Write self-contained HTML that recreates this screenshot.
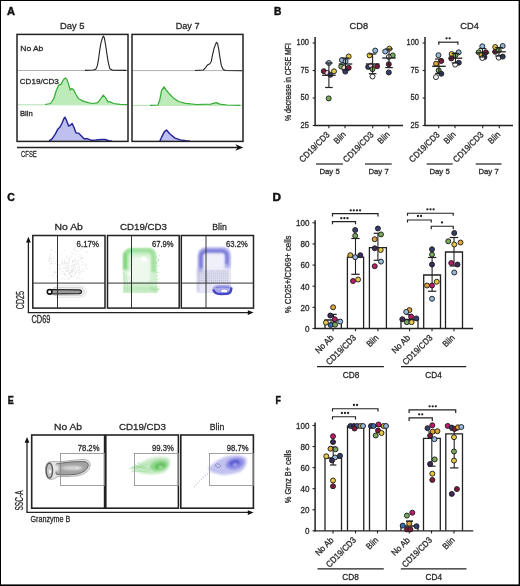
<!DOCTYPE html>
<html><head><meta charset="utf-8"><style>
html,body{margin:0;padding:0;background:#fff;width:520px;height:586px;overflow:hidden;}
svg{display:block;will-change:transform;filter:blur(0.3px);}
text{font-family:"Liberation Sans",sans-serif;}
</style></head><body>
<svg width="520" height="586" viewBox="0 0 520 586" font-family="Liberation Sans, sans-serif">
<rect x="0" y="0" width="520" height="586" fill="#000"/>
<rect x="1" y="1" width="517.6" height="583.4" fill="#fff"/>
<text x="7" y="14.8" font-size="11" fill="#111" font-weight="bold" stroke="#111" stroke-width="0.45" textLength="8" lengthAdjust="spacingAndGlyphs">A</text>
<text x="72.3" y="28.5" font-size="9.5" fill="#2a2a2a" stroke="#2a2a2a" stroke-width="0.3" text-anchor="middle" textLength="24.5" lengthAdjust="spacingAndGlyphs">Day 5</text>
<text x="187.6" y="28.5" font-size="9.5" fill="#2a2a2a" stroke="#2a2a2a" stroke-width="0.3" text-anchor="middle" textLength="23.8" lengthAdjust="spacingAndGlyphs">Day 7</text>
<line x1="17" y1="70.5" x2="128" y2="70.5" stroke="#9a9a9a" stroke-width="0.8" />
<line x1="132" y1="70.6" x2="243" y2="70.6" stroke="#9a9a9a" stroke-width="0.8" />
<line x1="17" y1="104.8" x2="128" y2="104.8" stroke="#9ed89e" stroke-width="0.8" />
<line x1="132" y1="105.4" x2="243" y2="105.4" stroke="#9ed89e" stroke-width="0.8" />
<polyline points="85.0,70.4 93.3,70.0 95.8,69.2 97.4,65.4 98.6,58.8 99.9,48.9 101.1,42.3 102.4,38.1 103.4,36.1 104.4,38.1 105.7,45.6 106.9,53.9 108.2,62.1 109.8,68.7 112.3,70.1 126.4,70.4" fill="none" stroke="#222" stroke-width="1.1" stroke-linejoin="round"/>
<polyline points="195.0,70.5 203.3,70.0 205.2,68.2 207.5,64.9 209.8,63.7 211.2,61.7 212.5,55.2 213.9,48.8 215.3,45.1 216.4,42.3 217.6,43.7 218.8,49.7 219.9,57.1 221.3,65.4 223.2,69.5 225.5,70.5 242.0,70.7" fill="none" stroke="#222" stroke-width="1.1" stroke-linejoin="round"/>
<polygon points="45.0,104.8 45.0,104.5 50.6,103.5 53.8,98.7 56.2,90.8 58.6,85.2 61.0,84.4 62.6,81.2 64.2,78.8 65.4,78.0 67.0,79.6 68.6,84.4 70.2,90.0 71.8,88.4 73.7,90.0 76.1,94.7 78.5,98.7 83.3,101.1 88.1,102.7 92.9,103.5 97.7,102.7 100.9,98.7 103.3,95.2 105.7,97.9 108.0,101.9 110.4,101.9 113.6,103.5 120.0,104.3 127.0,104.7 127.0,104.8" fill="#bdecba" stroke="none"/>
<polyline points="45.0,104.5 50.6,103.5 53.8,98.7 56.2,90.8 58.6,85.2 61.0,84.4 62.6,81.2 64.2,78.8 65.4,78.0 67.0,79.6 68.6,84.4 70.2,90.0 71.8,88.4 73.7,90.0 76.1,94.7 78.5,98.7 83.3,101.1 88.1,102.7 92.9,103.5 97.7,102.7 100.9,98.7 103.3,95.2 105.7,97.9 108.0,101.9 110.4,101.9 113.6,103.5 120.0,104.3 127.0,104.7" fill="none" stroke="#36ac36" stroke-width="1.25" stroke-linejoin="round"/>
<polygon points="150.0,105.5 150.0,105.4 158.0,105.0 159.8,99.7 161.6,90.7 164.0,86.8 166.1,89.8 169.7,94.3 173.3,97.9 178.6,101.5 185.8,103.3 196.5,104.5 210.8,104.2 216.2,102.7 219.8,104.2 226.9,105.0 240.3,105.4 240.3,105.5" fill="#bdecba" stroke="none"/>
<polyline points="150.0,105.4 158.0,105.0 159.8,99.7 161.6,90.7 164.0,86.8 166.1,89.8 169.7,94.3 173.3,97.9 178.6,101.5 185.8,103.3 196.5,104.5 210.8,104.2 216.2,102.7 219.8,104.2 226.9,105.0 240.3,105.4" fill="none" stroke="#36ac36" stroke-width="1.25" stroke-linejoin="round"/>
<polygon points="49.0,141.3 49.0,141.1 52.2,138.7 55.4,133.9 57.8,129.2 60.2,126.8 62.2,122.8 63.8,118.8 65.0,117.2 66.5,120.4 68.6,126.0 70.5,125.2 72.1,123.6 73.7,126.8 76.1,133.1 78.5,133.1 80.9,135.5 84.1,138.7 87.3,138.7 91.3,140.3 96.1,140.0 101.7,139.5 104.9,139.5 108.8,140.8 112.0,141.1 112.0,141.3" fill="#c0c0f0" stroke="none"/>
<polyline points="49.0,141.1 52.2,138.7 55.4,133.9 57.8,129.2 60.2,126.8 62.2,122.8 63.8,118.8 65.0,117.2 66.5,120.4 68.6,126.0 70.5,125.2 72.1,123.6 73.7,126.8 76.1,133.1 78.5,133.1 80.9,135.5 84.1,138.7 87.3,138.7 91.3,140.3 96.1,140.0 101.7,139.5 104.9,139.5 108.8,140.8 112.0,141.1" fill="none" stroke="#24249a" stroke-width="1.45" stroke-linejoin="round"/>
<polygon points="159.8,141.3 159.8,141.3 161.6,137.2 164.3,131.9 166.5,130.1 169.7,133.7 175.0,138.1 180.4,139.9 185.8,140.8 190.0,141.2 190.0,141.3" fill="#c0c0f0" stroke="none"/>
<polyline points="159.8,141.3 161.6,137.2 164.3,131.9 166.5,130.1 169.7,133.7 175.0,138.1 180.4,139.9 185.8,140.8 190.0,141.2" fill="none" stroke="#24249a" stroke-width="1.45" stroke-linejoin="round"/>
<rect x="17" y="34.4" width="111" height="107.0" stroke="#222" stroke-width="1.5" fill="none" />
<rect x="132" y="34.4" width="111" height="107.0" stroke="#222" stroke-width="1.5" fill="none" />
<text x="20.3" y="51" font-size="8" fill="#2a2a2a" stroke="#2a2a2a" stroke-width="0.3" textLength="23" lengthAdjust="spacingAndGlyphs">No Ab</text>
<text x="19.8" y="84" font-size="8" fill="#2a2a2a" stroke="#2a2a2a" stroke-width="0.3" textLength="39" lengthAdjust="spacingAndGlyphs">CD19/CD3</text>
<text x="20" y="115.7" font-size="8" fill="#2a2a2a" stroke="#2a2a2a" stroke-width="0.3" textLength="12.8" lengthAdjust="spacingAndGlyphs">Blin</text>
<line x1="17" y1="147.5" x2="238" y2="147.5" stroke="#222" stroke-width="1.3" />
<polygon points="243.3,147.5 235.4,144.2 237.6,147.5 235.4,150.8" fill="#111"/>
<text x="21" y="157.4" font-size="9.7" fill="#2a2a2a" stroke="#2a2a2a" stroke-width="0.3" textLength="15.8" lengthAdjust="spacingAndGlyphs">CFSE</text>
<text x="273.9" y="14.7" font-size="10.8" fill="#111" font-weight="bold" stroke="#111" stroke-width="0.45" textLength="7.4" lengthAdjust="spacingAndGlyphs">B</text>
<text x="358.8" y="29.0" font-size="9.7" fill="#2a2a2a" stroke="#2a2a2a" stroke-width="0.3" text-anchor="middle" textLength="18.5" lengthAdjust="spacingAndGlyphs">CD8</text>
<text x="469.6" y="29.0" font-size="9.7" fill="#2a2a2a" stroke="#2a2a2a" stroke-width="0.3" text-anchor="middle" textLength="18.5" lengthAdjust="spacingAndGlyphs">CD4</text>
<line x1="315.1" y1="37" x2="315.1" y2="126" stroke="#222" stroke-width="1.5" />
<line x1="314.5" y1="125.5" x2="403" y2="125.5" stroke="#222" stroke-width="1.3" />
<line x1="312.70000000000005" y1="43" x2="315.1" y2="43" stroke="#222" stroke-width="1.1" />
<text x="309.0" y="45.1" font-size="8.3" fill="#2a2a2a" stroke="#2a2a2a" stroke-width="0.3" text-anchor="end" textLength="12.4" lengthAdjust="spacingAndGlyphs">100</text>
<line x1="312.70000000000005" y1="70.5" x2="315.1" y2="70.5" stroke="#222" stroke-width="1.1" />
<text x="309.0" y="72.6" font-size="8.3" fill="#2a2a2a" stroke="#2a2a2a" stroke-width="0.3" text-anchor="end" textLength="8.4" lengthAdjust="spacingAndGlyphs">75</text>
<line x1="312.70000000000005" y1="98" x2="315.1" y2="98" stroke="#222" stroke-width="1.1" />
<text x="309.0" y="100.1" font-size="8.3" fill="#2a2a2a" stroke="#2a2a2a" stroke-width="0.3" text-anchor="end" textLength="8.4" lengthAdjust="spacingAndGlyphs">50</text>
<line x1="312.70000000000005" y1="125.5" x2="315.1" y2="125.5" stroke="#222" stroke-width="1.1" />
<text x="309.0" y="127.6" font-size="8.3" fill="#2a2a2a" stroke="#2a2a2a" stroke-width="0.3" text-anchor="end" textLength="8.4" lengthAdjust="spacingAndGlyphs">25</text>
<line x1="425.0" y1="37" x2="425.0" y2="126" stroke="#222" stroke-width="1.5" />
<line x1="424.4" y1="125.5" x2="513" y2="125.5" stroke="#222" stroke-width="1.3" />
<line x1="422.6" y1="43" x2="425.0" y2="43" stroke="#222" stroke-width="1.1" />
<text x="418.9" y="45.1" font-size="8.3" fill="#2a2a2a" stroke="#2a2a2a" stroke-width="0.3" text-anchor="end" textLength="12.4" lengthAdjust="spacingAndGlyphs">100</text>
<line x1="422.6" y1="70.5" x2="425.0" y2="70.5" stroke="#222" stroke-width="1.1" />
<text x="418.9" y="72.6" font-size="8.3" fill="#2a2a2a" stroke="#2a2a2a" stroke-width="0.3" text-anchor="end" textLength="8.4" lengthAdjust="spacingAndGlyphs">75</text>
<line x1="422.6" y1="98" x2="425.0" y2="98" stroke="#222" stroke-width="1.1" />
<text x="418.9" y="100.1" font-size="8.3" fill="#2a2a2a" stroke="#2a2a2a" stroke-width="0.3" text-anchor="end" textLength="8.4" lengthAdjust="spacingAndGlyphs">50</text>
<line x1="422.6" y1="125.5" x2="425.0" y2="125.5" stroke="#222" stroke-width="1.1" />
<text x="418.9" y="127.6" font-size="8.3" fill="#2a2a2a" stroke="#2a2a2a" stroke-width="0.3" text-anchor="end" textLength="8.4" lengthAdjust="spacingAndGlyphs">25</text>
<line x1="328.9" y1="125.5" x2="328.9" y2="128.3" stroke="#222" stroke-width="1.1" />
<line x1="345" y1="125.5" x2="345" y2="128.3" stroke="#222" stroke-width="1.1" />
<line x1="372.7" y1="125.5" x2="372.7" y2="128.3" stroke="#222" stroke-width="1.1" />
<line x1="388.9" y1="125.5" x2="388.9" y2="128.3" stroke="#222" stroke-width="1.1" />
<line x1="438.8" y1="125.5" x2="438.8" y2="128.3" stroke="#222" stroke-width="1.1" />
<line x1="455" y1="125.5" x2="455" y2="128.3" stroke="#222" stroke-width="1.1" />
<line x1="482.7" y1="125.5" x2="482.7" y2="128.3" stroke="#222" stroke-width="1.1" />
<line x1="499.3" y1="125.5" x2="499.3" y2="128.3" stroke="#222" stroke-width="1.1" />
<circle cx="328.9" cy="63" r="2.5" fill="#96b9de" stroke="#1a1a1a" stroke-width="0.9"/>
<circle cx="323.8" cy="71.2" r="2.5" fill="#7e1a3c" stroke="#1a1a1a" stroke-width="0.9"/>
<circle cx="327.3" cy="73" r="2.5" fill="#f3d6e6" stroke="#1a1a1a" stroke-width="0.9"/>
<circle cx="330.4" cy="74.8" r="2.5" fill="#363d6c" stroke="#1a1a1a" stroke-width="0.9"/>
<circle cx="334" cy="71.3" r="2.5" fill="#e6c840" stroke="#1a1a1a" stroke-width="0.9"/>
<circle cx="328.7" cy="98.4" r="2.5" fill="#78a85a" stroke="#1a1a1a" stroke-width="0.9"/>
<circle cx="348.7" cy="56.5" r="2.5" fill="#e6c840" stroke="#1a1a1a" stroke-width="0.9"/>
<circle cx="341.9" cy="60.1" r="2.5" fill="#96b9de" stroke="#1a1a1a" stroke-width="0.9"/>
<circle cx="345.6" cy="61.3" r="2.5" fill="#96b9de" stroke="#1a1a1a" stroke-width="0.9"/>
<circle cx="341.2" cy="66.5" r="2.5" fill="#78a85a" stroke="#1a1a1a" stroke-width="0.9"/>
<circle cx="344.3" cy="67.8" r="2.5" fill="#f3d6e6" stroke="#1a1a1a" stroke-width="0.9"/>
<circle cx="348.7" cy="67.8" r="2.5" fill="#7e1a3c" stroke="#1a1a1a" stroke-width="0.9"/>
<circle cx="345.3" cy="71.6" r="2.5" fill="#363d6c" stroke="#1a1a1a" stroke-width="0.9"/>
<circle cx="375.2" cy="50.6" r="2.5" fill="#96b9de" stroke="#1a1a1a" stroke-width="0.9"/>
<circle cx="369.6" cy="55.4" r="2.5" fill="#e6c840" stroke="#1a1a1a" stroke-width="0.9"/>
<circle cx="368.2" cy="66.9" r="2.5" fill="#363d6c" stroke="#1a1a1a" stroke-width="0.9"/>
<circle cx="371" cy="65.7" r="2.5" fill="#f3d6e6" stroke="#1a1a1a" stroke-width="0.9"/>
<circle cx="377.1" cy="66.2" r="2.5" fill="#7e1a3c" stroke="#1a1a1a" stroke-width="0.9"/>
<circle cx="372.5" cy="69.2" r="2.5" fill="#78a85a" stroke="#1a1a1a" stroke-width="0.9"/>
<circle cx="372.5" cy="76.5" r="2.5" fill="#f4f4f4" stroke="#1a1a1a" stroke-width="0.9"/>
<circle cx="389.3" cy="48.7" r="2.5" fill="#e6c840" stroke="#1a1a1a" stroke-width="0.9"/>
<circle cx="385.2" cy="51.5" r="2.5" fill="#96b9de" stroke="#1a1a1a" stroke-width="0.9"/>
<circle cx="392.7" cy="55.4" r="2.5" fill="#78a85a" stroke="#1a1a1a" stroke-width="0.9"/>
<circle cx="388.8" cy="57" r="2.5" fill="#f4f4f4" stroke="#1a1a1a" stroke-width="0.9"/>
<circle cx="388.8" cy="64.2" r="2.5" fill="#7e1a3c" stroke="#1a1a1a" stroke-width="0.9"/>
<circle cx="388.8" cy="72.4" r="2.5" fill="#363d6c" stroke="#1a1a1a" stroke-width="0.9"/>
<circle cx="438.5" cy="55.2" r="2.5" fill="#96b9de" stroke="#1a1a1a" stroke-width="0.9"/>
<circle cx="441.3" cy="61" r="2.5" fill="#7e1a3c" stroke="#1a1a1a" stroke-width="0.9"/>
<circle cx="436" cy="63.7" r="2.5" fill="#dea33a" stroke="#1a1a1a" stroke-width="0.9"/>
<circle cx="438.7" cy="70.4" r="2.5" fill="#78a85a" stroke="#1a1a1a" stroke-width="0.9"/>
<circle cx="441.3" cy="73.75" r="2.5" fill="#363d6c" stroke="#1a1a1a" stroke-width="0.9"/>
<circle cx="436" cy="77.1" r="2.5" fill="#f4f4f4" stroke="#1a1a1a" stroke-width="0.9"/>
<circle cx="451.6" cy="54" r="2.5" fill="#e6c840" stroke="#1a1a1a" stroke-width="0.9"/>
<circle cx="458.7" cy="52.3" r="2.5" fill="#96b9de" stroke="#1a1a1a" stroke-width="0.9"/>
<circle cx="455.5" cy="55.2" r="2.5" fill="#78a85a" stroke="#1a1a1a" stroke-width="0.9"/>
<circle cx="451.3" cy="58.4" r="2.5" fill="#7e1a3c" stroke="#1a1a1a" stroke-width="0.9"/>
<circle cx="458.8" cy="62.7" r="2.5" fill="#363d6c" stroke="#1a1a1a" stroke-width="0.9"/>
<circle cx="455.2" cy="64.6" r="2.5" fill="#f4f4f4" stroke="#1a1a1a" stroke-width="0.9"/>
<circle cx="482.3" cy="46.3" r="2.5" fill="#96b9de" stroke="#1a1a1a" stroke-width="0.9"/>
<circle cx="478.7" cy="52.3" r="2.5" fill="#78a85a" stroke="#1a1a1a" stroke-width="0.9"/>
<circle cx="485.9" cy="52.3" r="2.5" fill="#7e1a3c" stroke="#1a1a1a" stroke-width="0.9"/>
<circle cx="481.5" cy="55" r="2.5" fill="#e6c840" stroke="#1a1a1a" stroke-width="0.9"/>
<circle cx="484.4" cy="57.1" r="2.5" fill="#363d6c" stroke="#1a1a1a" stroke-width="0.9"/>
<circle cx="482.3" cy="58" r="2.5" fill="#f4f4f4" stroke="#1a1a1a" stroke-width="0.9"/>
<circle cx="495.2" cy="47" r="2.5" fill="#e6c840" stroke="#1a1a1a" stroke-width="0.9"/>
<circle cx="502.7" cy="46" r="2.5" fill="#96b9de" stroke="#1a1a1a" stroke-width="0.9"/>
<circle cx="495.2" cy="51.8" r="2.5" fill="#7e1a3c" stroke="#1a1a1a" stroke-width="0.9"/>
<circle cx="498.8" cy="50.4" r="2.5" fill="#78a85a" stroke="#1a1a1a" stroke-width="0.9"/>
<circle cx="498.7" cy="57.6" r="2.5" fill="#f4f4f4" stroke="#1a1a1a" stroke-width="0.9"/>
<circle cx="502.7" cy="56.6" r="2.5" fill="#363d6c" stroke="#1a1a1a" stroke-width="0.9"/>
<line x1="328.9" y1="63" x2="328.9" y2="87.5" stroke="#222" stroke-width="1.1" />
<line x1="325.09999999999997" y1="63" x2="332.7" y2="63" stroke="#222" stroke-width="1.2" />
<line x1="325.09999999999997" y1="87.5" x2="332.7" y2="87.5" stroke="#222" stroke-width="1.2" />
<line x1="322.09999999999997" y1="75.3" x2="335.7" y2="75.3" stroke="#222" stroke-width="1.3" />
<line x1="345.5" y1="58" x2="345.5" y2="70" stroke="#222" stroke-width="1.1" />
<line x1="341.7" y1="58" x2="349.3" y2="58" stroke="#222" stroke-width="1.2" />
<line x1="341.7" y1="70" x2="349.3" y2="70" stroke="#222" stroke-width="1.2" />
<line x1="338.7" y1="64" x2="352.3" y2="64" stroke="#222" stroke-width="1.3" />
<line x1="372.6" y1="54" x2="372.6" y2="73.7" stroke="#222" stroke-width="1.1" />
<line x1="368.8" y1="54" x2="376.40000000000003" y2="54" stroke="#222" stroke-width="1.2" />
<line x1="368.8" y1="73.7" x2="376.40000000000003" y2="73.7" stroke="#222" stroke-width="1.2" />
<line x1="365.8" y1="64" x2="379.40000000000003" y2="64" stroke="#222" stroke-width="1.3" />
<line x1="389.0" y1="49" x2="389.0" y2="67.6" stroke="#222" stroke-width="1.1" />
<line x1="385.2" y1="49" x2="392.8" y2="49" stroke="#222" stroke-width="1.2" />
<line x1="385.2" y1="67.6" x2="392.8" y2="67.6" stroke="#222" stroke-width="1.2" />
<line x1="382.2" y1="58" x2="395.8" y2="58" stroke="#222" stroke-width="1.3" />
<line x1="438.9" y1="59" x2="438.9" y2="73.5" stroke="#222" stroke-width="1.1" />
<line x1="435.09999999999997" y1="59" x2="442.7" y2="59" stroke="#222" stroke-width="1.2" />
<line x1="435.09999999999997" y1="73.5" x2="442.7" y2="73.5" stroke="#222" stroke-width="1.2" />
<line x1="432.09999999999997" y1="66.3" x2="445.7" y2="66.3" stroke="#222" stroke-width="1.3" />
<line x1="455.5" y1="53.5" x2="455.5" y2="63" stroke="#222" stroke-width="1.1" />
<line x1="451.7" y1="53.5" x2="459.3" y2="53.5" stroke="#222" stroke-width="1.2" />
<line x1="451.7" y1="63" x2="459.3" y2="63" stroke="#222" stroke-width="1.2" />
<line x1="448.7" y1="58.2" x2="462.3" y2="58.2" stroke="#222" stroke-width="1.3" />
<line x1="482.5" y1="48.5" x2="482.5" y2="57" stroke="#222" stroke-width="1.1" />
<line x1="478.7" y1="48.5" x2="486.3" y2="48.5" stroke="#222" stroke-width="1.2" />
<line x1="478.7" y1="57" x2="486.3" y2="57" stroke="#222" stroke-width="1.2" />
<line x1="475.7" y1="52.8" x2="489.3" y2="52.8" stroke="#222" stroke-width="1.3" />
<line x1="499.0" y1="47.5" x2="499.0" y2="56" stroke="#222" stroke-width="1.1" />
<line x1="495.2" y1="47.5" x2="502.8" y2="47.5" stroke="#222" stroke-width="1.2" />
<line x1="495.2" y1="56" x2="502.8" y2="56" stroke="#222" stroke-width="1.2" />
<line x1="492.2" y1="51.8" x2="505.8" y2="51.8" stroke="#222" stroke-width="1.3" />
<line x1="438.8" y1="42.2" x2="457.9" y2="42.2" stroke="#222" stroke-width="1.2" />
<line x1="438.8" y1="41.6" x2="438.8" y2="44.8" stroke="#222" stroke-width="1.2" />
<line x1="457.9" y1="41.6" x2="457.9" y2="44.8" stroke="#222" stroke-width="1.2" />
<circle cx="446.55" cy="38.3" r="1.15" fill="#222"/>
<circle cx="449.65" cy="38.3" r="1.15" fill="#222"/>
<text transform="translate(330.29999999999995,135.3) rotate(-45)" x="0" y="0" font-size="8.8" fill="#2a2a2a" stroke="#2a2a2a" stroke-width="0.3" text-anchor="end" textLength="39" lengthAdjust="spacingAndGlyphs">CD19/CD3</text>
<text transform="translate(374.09999999999997,135.3) rotate(-45)" x="0" y="0" font-size="8.8" fill="#2a2a2a" stroke="#2a2a2a" stroke-width="0.3" text-anchor="end" textLength="39" lengthAdjust="spacingAndGlyphs">CD19/CD3</text>
<text transform="translate(440.2,135.3) rotate(-45)" x="0" y="0" font-size="8.8" fill="#2a2a2a" stroke="#2a2a2a" stroke-width="0.3" text-anchor="end" textLength="39" lengthAdjust="spacingAndGlyphs">CD19/CD3</text>
<text transform="translate(484.09999999999997,135.3) rotate(-45)" x="0" y="0" font-size="8.8" fill="#2a2a2a" stroke="#2a2a2a" stroke-width="0.3" text-anchor="end" textLength="39" lengthAdjust="spacingAndGlyphs">CD19/CD3</text>
<text transform="translate(346.4,135.3) rotate(-45)" x="0" y="0" font-size="8.8" fill="#2a2a2a" stroke="#2a2a2a" stroke-width="0.3" text-anchor="end" textLength="13" lengthAdjust="spacingAndGlyphs">Blin</text>
<text transform="translate(390.29999999999995,135.3) rotate(-45)" x="0" y="0" font-size="8.8" fill="#2a2a2a" stroke="#2a2a2a" stroke-width="0.3" text-anchor="end" textLength="13" lengthAdjust="spacingAndGlyphs">Blin</text>
<text transform="translate(456.4,135.3) rotate(-45)" x="0" y="0" font-size="8.8" fill="#2a2a2a" stroke="#2a2a2a" stroke-width="0.3" text-anchor="end" textLength="13" lengthAdjust="spacingAndGlyphs">Blin</text>
<text transform="translate(500.7,135.3) rotate(-45)" x="0" y="0" font-size="8.8" fill="#2a2a2a" stroke="#2a2a2a" stroke-width="0.3" text-anchor="end" textLength="13" lengthAdjust="spacingAndGlyphs">Blin</text>
<line x1="316" y1="164" x2="342.9" y2="164" stroke="#222" stroke-width="1.2" />
<text x="329.6" y="174" font-size="8" fill="#2a2a2a" stroke="#2a2a2a" stroke-width="0.3" text-anchor="middle" textLength="20.3" lengthAdjust="spacingAndGlyphs">Day 5</text>
<line x1="365" y1="164" x2="391.7" y2="164" stroke="#222" stroke-width="1.2" />
<text x="378.6" y="174" font-size="8" fill="#2a2a2a" stroke="#2a2a2a" stroke-width="0.3" text-anchor="middle" textLength="20.3" lengthAdjust="spacingAndGlyphs">Day 7</text>
<line x1="426.6" y1="164" x2="452.7" y2="164" stroke="#222" stroke-width="1.2" />
<text x="439.6" y="174" font-size="8" fill="#2a2a2a" stroke="#2a2a2a" stroke-width="0.3" text-anchor="middle" textLength="20.3" lengthAdjust="spacingAndGlyphs">Day 5</text>
<line x1="475.7" y1="164" x2="501.6" y2="164" stroke="#222" stroke-width="1.2" />
<text x="488.6" y="174" font-size="8" fill="#2a2a2a" stroke="#2a2a2a" stroke-width="0.3" text-anchor="middle" textLength="20.3" lengthAdjust="spacingAndGlyphs">Day 7</text>
<text transform="translate(290.6,82) rotate(-90)" x="0" y="0" font-size="8.6" fill="#2a2a2a" stroke="#2a2a2a" stroke-width="0.3" text-anchor="middle" textLength="78" lengthAdjust="spacingAndGlyphs">% decrease in CFSE MFI</text>
<text x="7.3" y="201.1" font-size="10.5" fill="#111" font-weight="bold" stroke="#111" stroke-width="0.45" textLength="7.6" lengthAdjust="spacingAndGlyphs">C</text>
<text x="68.75" y="230.4" font-size="9.7" fill="#2a2a2a" stroke="#2a2a2a" stroke-width="0.3" text-anchor="middle" textLength="28.3" lengthAdjust="spacingAndGlyphs">No Ab</text>
<text x="143.5" y="230.4" font-size="9.7" fill="#2a2a2a" stroke="#2a2a2a" stroke-width="0.3" text-anchor="middle" textLength="47" lengthAdjust="spacingAndGlyphs">CD19/CD3</text>
<text x="219.5" y="230.4" font-size="9.7" fill="#2a2a2a" stroke="#2a2a2a" stroke-width="0.3" text-anchor="middle" textLength="14.5" lengthAdjust="spacingAndGlyphs">Blin</text>
<defs><filter id="bl1" x="-20%" y="-20%" width="140%" height="140%"><feGaussianBlur stdDeviation="0.8"/></filter><filter id="bl2" x="-20%" y="-20%" width="140%" height="140%"><feGaussianBlur stdDeviation="1.5"/></filter><filter id="bl05" x="-20%" y="-20%" width="140%" height="140%"><feGaussianBlur stdDeviation="0.5"/></filter></defs>
<g fill="#d0d0d0"><circle cx="67.8" cy="270.1" r="0.45"/><circle cx="68.1" cy="263.5" r="0.45"/><circle cx="62.1" cy="264.3" r="0.45"/><circle cx="79.5" cy="269.4" r="0.45"/><circle cx="78.8" cy="268.0" r="0.45"/><circle cx="73.4" cy="267.5" r="0.45"/><circle cx="55.8" cy="272.8" r="0.45"/><circle cx="74.3" cy="270.0" r="0.45"/><circle cx="55.6" cy="252.0" r="0.45"/><circle cx="62.4" cy="262.3" r="0.45"/><circle cx="72.6" cy="265.6" r="0.45"/><circle cx="74.4" cy="260.9" r="0.45"/><circle cx="72.6" cy="269.2" r="0.45"/><circle cx="64.4" cy="279.7" r="0.45"/><circle cx="74.7" cy="275.6" r="0.45"/><circle cx="64.7" cy="260.1" r="0.45"/><circle cx="67.1" cy="265.1" r="0.45"/><circle cx="75.4" cy="268.0" r="0.45"/><circle cx="66.2" cy="258.3" r="0.45"/><circle cx="65.6" cy="275.8" r="0.45"/><circle cx="63.1" cy="268.0" r="0.45"/><circle cx="73.6" cy="254.1" r="0.45"/><circle cx="70.4" cy="276.4" r="0.45"/><circle cx="52.9" cy="263.4" r="0.45"/><circle cx="69.1" cy="259.5" r="0.45"/><circle cx="74.2" cy="265.5" r="0.45"/><circle cx="57.6" cy="272.6" r="0.45"/><circle cx="75.7" cy="273.6" r="0.45"/><circle cx="82.2" cy="268.9" r="0.45"/><circle cx="71.0" cy="255.6" r="0.45"/><circle cx="75.2" cy="261.1" r="0.45"/><circle cx="66.2" cy="255.9" r="0.45"/><circle cx="61.8" cy="261.8" r="0.45"/><circle cx="81.0" cy="249.7" r="0.45"/><circle cx="57.6" cy="267.9" r="0.45"/><circle cx="82.3" cy="270.6" r="0.45"/><circle cx="73.0" cy="260.1" r="0.45"/><circle cx="60.5" cy="273.8" r="0.45"/><circle cx="79.4" cy="267.3" r="0.45"/><circle cx="72.1" cy="269.5" r="0.45"/><circle cx="83.5" cy="271.0" r="0.45"/><circle cx="74.4" cy="270.4" r="0.45"/><circle cx="56.7" cy="276.3" r="0.45"/><circle cx="78.1" cy="270.2" r="0.45"/><circle cx="53.2" cy="260.9" r="0.45"/><circle cx="77.2" cy="251.5" r="0.45"/><circle cx="68.4" cy="274.2" r="0.45"/><circle cx="58.9" cy="278.9" r="0.45"/><circle cx="74.7" cy="264.8" r="0.45"/><circle cx="72.8" cy="271.2" r="0.45"/><circle cx="71.0" cy="275.2" r="0.45"/><circle cx="64.4" cy="262.7" r="0.45"/><circle cx="78.9" cy="266.2" r="0.45"/><circle cx="62.5" cy="273.6" r="0.45"/><circle cx="82.5" cy="262.4" r="0.45"/><circle cx="58.3" cy="264.9" r="0.45"/><circle cx="68.7" cy="263.6" r="0.45"/><circle cx="81.9" cy="257.8" r="0.45"/><circle cx="80.7" cy="255.9" r="0.45"/><circle cx="63.3" cy="271.1" r="0.45"/><circle cx="79.6" cy="272.9" r="0.45"/><circle cx="72.9" cy="267.1" r="0.45"/><circle cx="71.3" cy="270.6" r="0.45"/><circle cx="68.5" cy="268.2" r="0.45"/><circle cx="74.9" cy="266.0" r="0.45"/><circle cx="76.5" cy="270.5" r="0.45"/><circle cx="87.1" cy="268.6" r="0.45"/><circle cx="66.4" cy="263.0" r="0.45"/><circle cx="69.9" cy="273.4" r="0.45"/><circle cx="67.1" cy="269.1" r="0.45"/><circle cx="60.4" cy="268.0" r="0.45"/><circle cx="73.4" cy="267.9" r="0.45"/><circle cx="66.3" cy="271.2" r="0.45"/><circle cx="72.4" cy="261.8" r="0.45"/><circle cx="90.7" cy="268.8" r="0.45"/><circle cx="65.3" cy="265.2" r="0.45"/><circle cx="68.1" cy="265.5" r="0.45"/><circle cx="78.6" cy="256.7" r="0.45"/><circle cx="69.4" cy="273.6" r="0.45"/><circle cx="77.3" cy="277.9" r="0.45"/><circle cx="55.5" cy="263.2" r="0.45"/><circle cx="67.1" cy="271.0" r="0.45"/><circle cx="79.3" cy="254.4" r="0.45"/><circle cx="75.8" cy="254.1" r="0.45"/><circle cx="71.5" cy="275.6" r="0.45"/><circle cx="68.7" cy="267.5" r="0.45"/><circle cx="76.8" cy="267.1" r="0.45"/><circle cx="69.2" cy="278.3" r="0.45"/><circle cx="78.9" cy="263.6" r="0.45"/><circle cx="77.8" cy="263.9" r="0.45"/><circle cx="71.1" cy="271.6" r="0.45"/><circle cx="71.9" cy="271.1" r="0.45"/><circle cx="57.0" cy="253.9" r="0.45"/><circle cx="75.2" cy="258.3" r="0.45"/><circle cx="61.3" cy="254.2" r="0.45"/><circle cx="80.8" cy="272.0" r="0.45"/><circle cx="82.5" cy="258.5" r="0.45"/><circle cx="70.0" cy="256.9" r="0.45"/><circle cx="76.5" cy="278.7" r="0.45"/><circle cx="62.4" cy="278.5" r="0.45"/><circle cx="78.4" cy="264.6" r="0.45"/><circle cx="53.2" cy="277.3" r="0.45"/><circle cx="69.2" cy="261.2" r="0.45"/><circle cx="73.4" cy="269.3" r="0.45"/><circle cx="82.7" cy="257.8" r="0.45"/><circle cx="79.7" cy="277.9" r="0.45"/><circle cx="82.3" cy="264.6" r="0.45"/><circle cx="63.7" cy="274.1" r="0.45"/><circle cx="71.0" cy="267.0" r="0.45"/><circle cx="82.1" cy="263.9" r="0.45"/><circle cx="50.5" cy="262.9" r="0.45"/><circle cx="54.2" cy="272.6" r="0.45"/><circle cx="72.7" cy="261.1" r="0.45"/><circle cx="69.9" cy="272.7" r="0.45"/><circle cx="70.7" cy="276.6" r="0.45"/><circle cx="69.5" cy="274.3" r="0.45"/><circle cx="82.7" cy="278.9" r="0.45"/><circle cx="64.3" cy="273.0" r="0.45"/><circle cx="54.1" cy="257.3" r="0.45"/><circle cx="53.3" cy="274.6" r="0.45"/><circle cx="59.5" cy="265.9" r="0.45"/><circle cx="68.4" cy="265.8" r="0.45"/><circle cx="65.0" cy="267.9" r="0.45"/><circle cx="85.2" cy="266.4" r="0.45"/><circle cx="74.5" cy="274.0" r="0.45"/><circle cx="68.3" cy="255.9" r="0.45"/><circle cx="65.3" cy="274.6" r="0.45"/><circle cx="56.0" cy="261.2" r="0.45"/><circle cx="78.6" cy="272.3" r="0.45"/><circle cx="70.1" cy="272.4" r="0.45"/><circle cx="71.4" cy="256.6" r="0.45"/><circle cx="56.7" cy="260.9" r="0.45"/><circle cx="77.8" cy="261.5" r="0.45"/><circle cx="62.3" cy="259.8" r="0.45"/><circle cx="57.0" cy="265.1" r="0.45"/><circle cx="60.0" cy="268.9" r="0.45"/><circle cx="49.9" cy="268.6" r="0.45"/><circle cx="64.5" cy="250.5" r="0.45"/><circle cx="76.2" cy="263.8" r="0.45"/><circle cx="51.0" cy="259.0" r="0.45"/><circle cx="72.5" cy="262.3" r="0.45"/><circle cx="76.6" cy="272.0" r="0.45"/><circle cx="75.7" cy="268.6" r="0.45"/><circle cx="81.3" cy="271.3" r="0.45"/><circle cx="73.8" cy="249.3" r="0.45"/><circle cx="77.6" cy="276.5" r="0.45"/><circle cx="67.5" cy="262.2" r="0.45"/><circle cx="86.5" cy="251.9" r="0.45"/><circle cx="62.1" cy="271.5" r="0.45"/><circle cx="86.0" cy="265.0" r="0.45"/><circle cx="49.6" cy="261.2" r="0.45"/><circle cx="51.1" cy="258.8" r="0.45"/><circle cx="49.8" cy="258.3" r="0.45"/><circle cx="51.9" cy="250.5" r="0.45"/><circle cx="51.2" cy="261.5" r="0.45"/><circle cx="49.1" cy="258.6" r="0.45"/><circle cx="51.5" cy="263.3" r="0.45"/><circle cx="49.3" cy="275.6" r="0.45"/><circle cx="52.2" cy="275.3" r="0.45"/><circle cx="49.4" cy="256.9" r="0.45"/><circle cx="49.2" cy="270.3" r="0.45"/><circle cx="50.1" cy="253.4" r="0.45"/></g>
<g fill="none" stroke="#d6d6d6" stroke-width="0.45"><path d="M67.8,270.1 q-0.3,1.6 1.9,-1.4"/><path d="M79.5,269.4 q-1.4,1.7 0.4,1.2"/><path d="M55.8,272.8 q-1.6,-1.8 1.1,-0.4"/><path d="M62.4,262.3 q-1.7,1.8 0.8,1.8"/><path d="M72.6,269.2 q-1.7,1.4 -2.6,2.2"/><path d="M64.7,260.1 q-0.2,-0.6 0.3,2.6"/><path d="M66.2,258.3 q-0.9,-1.5 0.2,-1.6"/><path d="M73.6,254.1 q-1.6,-1.4 -2.7,-1.8"/><path d="M69.1,259.5 q-0.8,-0.8 1.6,-1.3"/><path d="M75.7,273.6 q0.0,-1.3 -0.9,-2.9"/><path d="M75.2,261.1 q-1.0,-1.9 1.4,0.3"/><path d="M81.0,249.7 q-1.2,-0.1 2.6,-2.4"/><path d="M73.0,260.1 q1.3,-0.3 -0.0,2.0"/><path d="M72.1,269.5 q-0.4,0.0 1.1,2.9"/><path d="M56.7,276.3 q-0.6,1.3 1.2,0.8"/><path d="M77.2,251.5 q-0.4,-0.6 -2.7,-2.2"/><path d="M74.7,264.8 q-1.7,1.0 -1.5,-2.0"/><path d="M64.4,262.7 q-1.7,1.4 2.2,1.0"/><path d="M82.5,262.4 q-0.9,-1.0 -1.2,-0.2"/><path d="M81.9,257.8 q-1.4,-0.2 -1.4,2.8"/><path d="M79.6,272.9 q1.9,0.2 -1.5,2.8"/><path d="M68.5,268.2 q-0.8,-0.6 -3.0,-0.7"/><path d="M87.1,268.6 q-0.1,0.0 -1.8,0.0"/><path d="M67.1,269.1 q-2.0,-0.9 -2.5,-0.6"/><path d="M66.3,271.2 q-1.8,-1.9 -1.2,-1.6"/><path d="M65.3,265.2 q0.3,0.1 1.5,0.9"/><path d="M69.4,273.6 q0.9,1.5 -0.7,-1.0"/><path d="M67.1,271.0 q1.9,-1.4 1.3,0.9"/><path d="M71.5,275.6 q-1.8,1.3 2.4,0.8"/><path d="M69.2,278.3 q0.9,1.2 -2.2,0.1"/><path d="M71.1,271.6 q0.0,1.3 1.8,2.0"/><path d="M75.2,258.3 q0.3,1.6 1.1,1.2"/><path d="M82.5,258.5 q-1.1,-1.9 -2.2,-0.8"/><path d="M62.4,278.5 q-1.6,1.3 0.4,0.8"/><path d="M69.2,261.2 q0.5,0.7 -0.1,-3.0"/><path d="M79.7,277.9 q1.2,1.0 0.0,0.2"/><path d="M71.0,267.0 q0.6,-1.7 1.4,-1.5"/><path d="M54.2,272.6 q-1.7,-0.9 1.4,-1.8"/><path d="M70.7,276.6 q1.0,1.9 -0.0,-0.7"/><path d="M64.3,273.0 q-0.1,0.7 1.6,0.7"/><path d="M59.5,265.9 q0.6,-1.7 -2.1,-1.5"/><path d="M85.2,266.4 q1.0,-0.8 0.4,-2.9"/><path d="M65.3,274.6 q-1.8,-0.9 1.0,1.2"/><path d="M70.1,272.4 q0.7,-0.8 0.1,-0.2"/><path d="M77.8,261.5 q-0.1,-1.5 2.4,-1.8"/><path d="M60.0,268.9 q1.9,1.7 -2.9,-0.2"/><path d="M76.2,263.8 q1.3,1.9 -0.3,-1.4"/><path d="M76.6,272.0 q-1.2,1.8 -1.7,0.5"/><path d="M73.8,249.3 q-1.4,0.1 2.7,-2.2"/><path d="M86.5,251.9 q1.3,0.0 2.3,1.2"/><path d="M49.6,261.2 q-1.1,1.6 -0.1,-2.9"/><path d="M51.9,250.5 q-2.0,-0.0 -0.3,-1.2"/><path d="M51.5,263.3 q-1.4,-0.6 -1.1,2.0"/><path d="M49.4,256.9 q-2.0,1.0 2.0,-2.3"/></g>
<path d="M56,285.8 L79,285.8 Q86.5,286.3 86.5,291.6 Q86.5,297.2 79,297.2 L56,297.2" fill="none" stroke="#d0d0d0" stroke-width="0.6"/>
<path d="M54,287.6 L80,287.6 Q84.3,288 84.3,291.7 Q84.3,295.4 80,295.4 L54,295.4 Z" fill="#f0f0f0" stroke="#b8b8b8" stroke-width="0.6"/>
<path d="M51,289.5 L79,289.9 Q81.6,290.2 81.6,291.8 Q81.6,293.5 79,293.6 L51,294 Z" fill="#9a9a9a" stroke="#1e1e1e" stroke-width="1.1"/>
<path d="M56,291.8 L77,291.8" stroke="#d8d8d8" stroke-width="0.9" filter="url(#bl05)"/>
<circle cx="49.6" cy="291.8" r="2.3" fill="#fff" stroke="#111" stroke-width="1.6"/>
<filter id="bl15" x="-30%" y="-30%" width="160%" height="160%"><feGaussianBlur stdDeviation="1.3"/></filter>
<g filter="url(#bl05)"><path d="M123,293 L123,255 Q123.5,248 131,248 L150,248 Q156.5,248.5 156.5,256 L157.5,293 Z" fill="#d3f1d1"/></g>
<g filter="url(#bl15)"><path d="M125.5,270 L125.5,256 Q126,250.5 132,250.5 L148,250.5 Q153.5,250.5 153.5,257 L153.5,272" fill="none" stroke="#9fe09c" stroke-width="4.5"/><path d="M125,253 L125,269" stroke="#7fd47c" stroke-width="3.4"/><path d="M153.5,256 L153.5,270" stroke="#a6e2a3" stroke-width="2.5"/><rect x="131" y="257" width="19" height="25" rx="4" fill="#eef9ed"/><rect x="127" y="271" width="6" height="12" fill="#f2fbf2"/><path d="M124,289 L157,289" stroke="#bfe9bd" stroke-width="5"/><path d="M150,287 L157,291" stroke="#a8e1a5" stroke-width="3"/></g>
<circle cx="143.8" cy="259.2" r="2.8" fill="#fdfffd" filter="url(#bl05)"/>
<g fill="#86cf84"><circle cx="158.2" cy="281.7" r="0.45"/><circle cx="158.8" cy="288.9" r="0.45"/><circle cx="158.6" cy="288.2" r="0.45"/><circle cx="156.1" cy="271.8" r="0.45"/><circle cx="159.3" cy="278.4" r="0.45"/><circle cx="159.2" cy="259.1" r="0.45"/><circle cx="157.6" cy="263.9" r="0.45"/><circle cx="157.9" cy="275.7" r="0.45"/><circle cx="156.0" cy="262.8" r="0.45"/><circle cx="157.0" cy="288.0" r="0.45"/><circle cx="158.7" cy="260.7" r="0.45"/><circle cx="158.8" cy="260.0" r="0.45"/><circle cx="158.2" cy="259.6" r="0.45"/><circle cx="156.0" cy="286.4" r="0.45"/><circle cx="156.7" cy="262.8" r="0.45"/><circle cx="159.4" cy="286.4" r="0.45"/><circle cx="157.0" cy="289.6" r="0.45"/><circle cx="157.9" cy="279.4" r="0.45"/><circle cx="156.7" cy="288.9" r="0.45"/><circle cx="158.4" cy="289.8" r="0.45"/><circle cx="159.1" cy="265.8" r="0.45"/><circle cx="157.3" cy="261.0" r="0.45"/><circle cx="156.5" cy="257.3" r="0.45"/><circle cx="157.1" cy="276.7" r="0.45"/><circle cx="156.0" cy="279.4" r="0.45"/><circle cx="157.2" cy="266.2" r="0.45"/><circle cx="158.9" cy="272.3" r="0.45"/><circle cx="157.1" cy="272.3" r="0.45"/><circle cx="158.5" cy="257.1" r="0.45"/><circle cx="159.4" cy="255.8" r="0.45"/></g>
<g fill="none" stroke="#a8dca6" stroke-width="0.5"><path d="M123,272 Q126,280 124,292"/><path d="M126,274 Q129,283 127,292"/><path d="M129,276 Q132,285 131,292"/></g>
<g filter="url(#bl05)"><path d="M197.5,293 L197.5,256 Q197.5,247.5 205,247.5 L225,247.5 Q231,247.5 231,256 L231,293 Z" fill="#e6e6f7"/></g>
<g filter="url(#bl15)"><path d="M200.5,272 L200.5,256 Q201,250 207,250 L223,250 Q228,250.5 228,257 L227.5,268" fill="none" stroke="#aeaeec" stroke-width="5"/><rect x="204" y="255" width="20" height="14" rx="3" fill="#f0f0fb"/><path d="M198,268 L198,292" stroke="#c4c4ea" stroke-width="2"/></g>
<g filter="url(#bl1)"><path d="M201,268 L201,256 Q201.5,251 207,251 L223,251 Q227,251.5 227,257 L226.8,264" fill="none" stroke="#6e6ed6" stroke-width="2.6"/></g>
<g filter="url(#bl05)"><path d="M212.5,289 Q213,285 219,285 L228,285 Q232.5,285.5 232.3,289.5 Q232,294.8 226,294.8 L218,294.8 Q212.5,294.5 212.5,289 Z" fill="#a8a8ea"/><path d="M213.2,289.5 Q214.5,294.2 221,294 L227,293.8 Q231.6,293 231.3,287.5" fill="none" stroke="#4646c6" stroke-width="2.3"/><path d="M216,287.5 Q222,286.6 229,287.5" fill="none" stroke="#7a7ad8" stroke-width="1"/></g>
<ellipse cx="224.2" cy="291" rx="3" ry="1.2" fill="#fff" filter="url(#bl05)"/>
<g stroke="#b8b8d4" stroke-width="0.45"><line x1="199.0" y1="270" x2="199.5" y2="283"/><line x1="201.0" y1="271" x2="201.5" y2="283"/><line x1="203.0" y1="272" x2="203.5" y2="283"/><line x1="205.0" y1="270" x2="205.5" y2="283"/><line x1="207.0" y1="271" x2="207.5" y2="283"/><line x1="209.0" y1="272" x2="209.5" y2="283"/><line x1="211.0" y1="270" x2="211.5" y2="283"/><line x1="213.0" y1="271" x2="213.5" y2="283"/><line x1="215.0" y1="272" x2="215.5" y2="283"/><line x1="217.0" y1="270" x2="217.5" y2="283"/><line x1="219.0" y1="271" x2="219.5" y2="283"/><line x1="221.0" y1="272" x2="221.5" y2="283"/><line x1="223.0" y1="270" x2="223.5" y2="283"/><line x1="225.0" y1="271" x2="225.5" y2="283"/><line x1="227.0" y1="272" x2="227.5" y2="283"/></g>
<g stroke="#b8b8d4" stroke-width="0.45"><line x1="199" y1="271.0" x2="229" y2="271.0"/><line x1="199" y1="273.4" x2="229" y2="273.4"/><line x1="199" y1="275.8" x2="229" y2="275.8"/><line x1="199" y1="278.2" x2="229" y2="278.2"/><line x1="199" y1="280.6" x2="229" y2="280.6"/></g>
<rect x="32.8" y="235.5" width="72.2" height="72.6" stroke="#222" stroke-width="1.5" fill="none" />
<line x1="57.5" y1="235.5" x2="57.5" y2="308.1" stroke="#333" stroke-width="1.0" />
<line x1="32.8" y1="283.1" x2="105" y2="283.1" stroke="#333" stroke-width="1.0" />
<rect x="107.5" y="235.5" width="71.69999999999999" height="72.6" stroke="#222" stroke-width="1.5" fill="none" />
<line x1="131.5" y1="235.5" x2="131.5" y2="308.1" stroke="#333" stroke-width="1.0" />
<line x1="107.5" y1="283.1" x2="179.2" y2="283.1" stroke="#333" stroke-width="1.0" />
<rect x="181.3" y="235.5" width="72.19999999999999" height="72.6" stroke="#222" stroke-width="1.5" fill="none" />
<line x1="206" y1="235.5" x2="206" y2="308.1" stroke="#333" stroke-width="1.0" />
<line x1="181.3" y1="283.1" x2="253.5" y2="283.1" stroke="#333" stroke-width="1.0" />
<text x="99" y="247.2" font-size="8.5" fill="#2a2a2a" stroke="#2a2a2a" stroke-width="0.3" text-anchor="end" textLength="22.4" lengthAdjust="spacingAndGlyphs">6.17%</text>
<text x="173.6" y="247.2" font-size="8.5" fill="#2a2a2a" stroke="#2a2a2a" stroke-width="0.3" text-anchor="end" textLength="21.6" lengthAdjust="spacingAndGlyphs">67.9%</text>
<text x="247.7" y="247.2" font-size="8.5" fill="#2a2a2a" stroke="#2a2a2a" stroke-width="0.3" text-anchor="end" textLength="21.6" lengthAdjust="spacingAndGlyphs">63.2%</text>
<line x1="28.4" y1="312.6" x2="28.4" y2="241" stroke="#222" stroke-width="1.3" />
<line x1="27.8" y1="312.6" x2="249" y2="312.6" stroke="#222" stroke-width="1.3" />
<polygon points="28.4,236.8 26,242.5 30.8,242.5" fill="#111"/>
<polygon points="253.6,312.6 247.8,310.2 247.8,315" fill="#111"/>
<text transform="translate(24.2,300.1) rotate(-90)" x="0" y="0" font-size="10" fill="#2a2a2a" stroke="#2a2a2a" stroke-width="0.3" text-anchor="middle" textLength="18.2" lengthAdjust="spacingAndGlyphs">CD25</text>
<text x="31.5" y="322.8" font-size="10" fill="#2a2a2a" stroke="#2a2a2a" stroke-width="0.3" textLength="19" lengthAdjust="spacingAndGlyphs">CD69</text>
<text x="7.8" y="403.9" font-size="10.5" fill="#111" font-weight="bold" stroke="#111" stroke-width="0.45" textLength="6" lengthAdjust="spacingAndGlyphs">E</text>
<text x="68" y="429.8" font-size="9.7" fill="#2a2a2a" stroke="#2a2a2a" stroke-width="0.3" text-anchor="middle" textLength="28" lengthAdjust="spacingAndGlyphs">No Ab</text>
<text x="142.5" y="429.8" font-size="9.7" fill="#2a2a2a" stroke="#2a2a2a" stroke-width="0.3" text-anchor="middle" textLength="47" lengthAdjust="spacingAndGlyphs">CD19/CD3</text>
<text x="217" y="429.8" font-size="9.7" fill="#2a2a2a" stroke="#2a2a2a" stroke-width="0.3" text-anchor="middle" textLength="14.5" lengthAdjust="spacingAndGlyphs">Blin</text>
<g filter="url(#bl05)"><path d="M45.5,470 Q45,462 51,461.6 L62,461.6 Q75,459.6 84,459.4 Q90.8,460 90.2,466 Q88.5,473.5 78,475.8 Q66,477.2 58,476.4 Q54.5,479.6 50,479.6 Q45.8,478.5 45.5,470 Z" fill="#e2e2e2" stroke="#a4a4a4" stroke-width="0.8"/><path d="M56,464 L62,463 Q73,461.2 84,461.6 Q88.8,462.2 88.2,466 Q86.5,472 76.5,474.2 Q66,475.4 60,474.8 L56,474 Z" fill="#a2a2a2" stroke="#6a6a6a" stroke-width="1"/></g>
<g filter="url(#bl1)"><ellipse cx="72" cy="468" rx="11" ry="2.2" fill="#d6d6d6"/><ellipse cx="77.6" cy="467.9" rx="2.4" ry="1.1" fill="#f2f2f2"/><ellipse cx="56" cy="468" rx="3" ry="3.8" fill="#e8e8e8"/></g>
<ellipse cx="49.4" cy="470.6" rx="3.2" ry="7.6" fill="#c4c4c4" stroke="#5a5a5a" stroke-width="1.3" filter="url(#bl05)"/>
<ellipse cx="50" cy="471.6" rx="1.2" ry="2" fill="#f4f4f4" filter="url(#bl05)"/>
<g filter="url(#bl1)"><path d="M131,469 Q140,462 150,458.2 Q162,455 169.5,458.5 Q172,466 165,472 Q156,475.5 146,474 Q137,472.5 131,469 Z" fill="#c6ebc4"/><ellipse cx="159" cy="465.5" rx="9.5" ry="5.6" transform="rotate(-12 159 465.5)" fill="#92d68e"/><ellipse cx="160" cy="466" rx="5.5" ry="3" transform="rotate(-12 160 466)" fill="#56c052"/><ellipse cx="160.5" cy="467" rx="2.2" ry="1.1" fill="#c8f3c6"/></g>
<path d="M129,469 Q135,466 142,466 M131,472 Q138,470 146,472 M134.6,464.4 L149,472.1 M134.6,469.2 L149,463.5 M137,462.5 L150,470 M131,467 L146,467.5" fill="none" stroke="#94d492" stroke-width="0.5"/>
<g filter="url(#bl1)"><path d="M208,469 Q215,459.5 228,456 Q242,453.5 246.5,458.5 Q248,467 240,472 Q230,475.5 220,474.5 Q211,473 208,469 Z" fill="#c2c2f0"/><ellipse cx="235" cy="463.5" rx="9.5" ry="5.8" transform="rotate(-12 235 463.5)" fill="#8c8ce6"/><ellipse cx="234.5" cy="463" rx="5.2" ry="2.8" transform="rotate(-12 234.5 463)" fill="#5050d0"/><ellipse cx="235" cy="464.5" rx="2" ry="1" fill="#d6d6fa"/></g>
<path d="M194,487 Q202,478 212,470 Q216,466 222,464" fill="none" stroke="#c6c6ee" stroke-width="1.2" stroke-dasharray="1.2 1.4"/>
<path d="M215,465 Q218,462 221,466 Q218,470 215,465" fill="none" stroke="#7a7aa8" stroke-width="0.6"/>
<rect x="31.7" y="435" width="72.89999999999999" height="73.2" stroke="#222" stroke-width="1.6" fill="none" />
<rect x="60.4" y="453.5" width="44.199999999999996" height="32" stroke="#8a8a8a" stroke-width="0.8" fill="none" />
<rect x="105.8" y="435" width="72.60000000000001" height="73.2" stroke="#222" stroke-width="1.6" fill="none" />
<rect x="134.5" y="453.5" width="43.900000000000006" height="32" stroke="#8a8a8a" stroke-width="0.8" fill="none" />
<rect x="180.8" y="435" width="72.6" height="73.2" stroke="#222" stroke-width="1.6" fill="none" />
<rect x="209.5" y="453.5" width="43.900000000000006" height="32" stroke="#8a8a8a" stroke-width="0.8" fill="none" />
<text x="99.5" y="451" font-size="8.5" fill="#2a2a2a" stroke="#2a2a2a" stroke-width="0.3" text-anchor="end" textLength="21.8" lengthAdjust="spacingAndGlyphs">78.2%</text>
<text x="173.8" y="451" font-size="8.5" fill="#2a2a2a" stroke="#2a2a2a" stroke-width="0.3" text-anchor="end" textLength="21.8" lengthAdjust="spacingAndGlyphs">99.3%</text>
<text x="248.6" y="451" font-size="8.5" fill="#2a2a2a" stroke="#2a2a2a" stroke-width="0.3" text-anchor="end" textLength="21.8" lengthAdjust="spacingAndGlyphs">98.7%</text>
<line x1="27" y1="512.3" x2="27" y2="442" stroke="#222" stroke-width="1.3" />
<line x1="26.4" y1="512.3" x2="249" y2="512.3" stroke="#222" stroke-width="1.3" />
<polygon points="27,437 24.6,442.8 29.4,442.8" fill="#111"/>
<polygon points="253.6,512.6 247.8,510.2 247.8,515" fill="#111"/>
<text transform="translate(22.5,500.5) rotate(-90)" x="0" y="0" font-size="10" fill="#2a2a2a" stroke="#2a2a2a" stroke-width="0.3" text-anchor="middle" textLength="20" lengthAdjust="spacingAndGlyphs">SSC-A</text>
<text x="30.4" y="522.3" font-size="9.6" fill="#2a2a2a" stroke="#2a2a2a" stroke-width="0.3" textLength="40" lengthAdjust="spacingAndGlyphs">Granzyme B</text>
<text x="272.5" y="200.7" font-size="10.8" fill="#111" font-weight="bold" stroke="#111" stroke-width="0.45" textLength="8.5" lengthAdjust="spacingAndGlyphs">D</text>
<line x1="315.1" y1="220.2" x2="315.1" y2="329.1" stroke="#222" stroke-width="1.5" />
<line x1="312.5" y1="222.8" x2="315.1" y2="222.8" stroke="#222" stroke-width="1.1" />
<text x="309.5" y="226.20000000000002" font-size="8.6" fill="#2a2a2a" stroke="#2a2a2a" stroke-width="0.3" text-anchor="end" textLength="13.4" lengthAdjust="spacingAndGlyphs">100</text>
<line x1="312.5" y1="243.94" x2="315.1" y2="243.94" stroke="#222" stroke-width="1.1" />
<text x="309.5" y="247.34" font-size="8.6" fill="#2a2a2a" stroke="#2a2a2a" stroke-width="0.3" text-anchor="end" textLength="9.0" lengthAdjust="spacingAndGlyphs">80</text>
<line x1="312.5" y1="265.08" x2="315.1" y2="265.08" stroke="#222" stroke-width="1.1" />
<text x="309.5" y="268.47999999999996" font-size="8.6" fill="#2a2a2a" stroke="#2a2a2a" stroke-width="0.3" text-anchor="end" textLength="9.0" lengthAdjust="spacingAndGlyphs">60</text>
<line x1="312.5" y1="286.22" x2="315.1" y2="286.22" stroke="#222" stroke-width="1.1" />
<text x="309.5" y="289.62" font-size="8.6" fill="#2a2a2a" stroke="#2a2a2a" stroke-width="0.3" text-anchor="end" textLength="9.0" lengthAdjust="spacingAndGlyphs">40</text>
<line x1="312.5" y1="307.36" x2="315.1" y2="307.36" stroke="#222" stroke-width="1.1" />
<text x="309.5" y="310.76" font-size="8.6" fill="#2a2a2a" stroke="#2a2a2a" stroke-width="0.3" text-anchor="end" textLength="9.0" lengthAdjust="spacingAndGlyphs">20</text>
<line x1="312.5" y1="328.5" x2="315.1" y2="328.5" stroke="#222" stroke-width="1.1" />
<text x="309.5" y="331.9" font-size="8.6" fill="#2a2a2a" stroke="#2a2a2a" stroke-width="0.3" text-anchor="end" textLength="4.5" lengthAdjust="spacingAndGlyphs">0</text>
<text transform="translate(290.8,274.4) rotate(-90)" x="0" y="0" font-size="8.6" fill="#2a2a2a" stroke="#2a2a2a" stroke-width="0.3" text-anchor="middle" textLength="77.8" lengthAdjust="spacingAndGlyphs">% CD25+/CD69+ cells</text>
<path d="M325,328.5 L325,320 L341.3,320 L341.3,328.5" fill="#fff" stroke="#222" stroke-width="1.3"/>
<path d="M347.4,328.5 L347.4,257.2 L363.6,257.2 L363.6,328.5" fill="#fff" stroke="#222" stroke-width="1.3"/>
<path d="M369.4,328.5 L369.4,247.7 L386.4,247.7 L386.4,328.5" fill="#fff" stroke="#222" stroke-width="1.3"/>
<path d="M401,328.5 L401,319.5 L418,319.5 L418,328.5" fill="#fff" stroke="#222" stroke-width="1.3"/>
<path d="M423.7,328.5 L423.7,275 L440.5,275 L440.5,328.5" fill="#fff" stroke="#222" stroke-width="1.3"/>
<path d="M445.5,328.5 L445.5,252 L462.5,252 L462.5,328.5" fill="#fff" stroke="#222" stroke-width="1.3"/>
<line x1="314.4" y1="328.5" x2="473" y2="328.5" stroke="#222" stroke-width="1.3" />
<line x1="333.1" y1="328.5" x2="333.1" y2="331.2" stroke="#222" stroke-width="1.1" />
<line x1="355.5" y1="328.5" x2="355.5" y2="331.2" stroke="#222" stroke-width="1.1" />
<line x1="377.9" y1="328.5" x2="377.9" y2="331.2" stroke="#222" stroke-width="1.1" />
<line x1="409.6" y1="328.5" x2="409.6" y2="331.2" stroke="#222" stroke-width="1.1" />
<line x1="432" y1="328.5" x2="432" y2="331.2" stroke="#222" stroke-width="1.1" />
<line x1="454" y1="328.5" x2="454" y2="331.2" stroke="#222" stroke-width="1.1" />
<line x1="333.5" y1="314.4" x2="333.5" y2="322" stroke="#222" stroke-width="1.1" />
<line x1="330.3" y1="314.4" x2="336.7" y2="314.4" stroke="#222" stroke-width="1.2" />
<line x1="330.3" y1="322" x2="336.7" y2="322" stroke="#222" stroke-width="1.2" />
<line x1="355.5" y1="238.5" x2="355.5" y2="274.3" stroke="#222" stroke-width="1.1" />
<line x1="351.3" y1="238.5" x2="359.7" y2="238.5" stroke="#222" stroke-width="1.2" />
<line x1="351.3" y1="274.3" x2="359.7" y2="274.3" stroke="#222" stroke-width="1.2" />
<line x1="377.9" y1="233.3" x2="377.9" y2="260.3" stroke="#222" stroke-width="1.1" />
<line x1="373.7" y1="233.3" x2="382.09999999999997" y2="233.3" stroke="#222" stroke-width="1.2" />
<line x1="373.7" y1="260.3" x2="382.09999999999997" y2="260.3" stroke="#222" stroke-width="1.2" />
<line x1="409.5" y1="314.5" x2="409.5" y2="323" stroke="#222" stroke-width="1.1" />
<line x1="406.3" y1="314.5" x2="412.7" y2="314.5" stroke="#222" stroke-width="1.2" />
<line x1="406.3" y1="323" x2="412.7" y2="323" stroke="#222" stroke-width="1.2" />
<line x1="432.1" y1="257.5" x2="432.1" y2="291.25" stroke="#222" stroke-width="1.1" />
<line x1="427.90000000000003" y1="257.5" x2="436.3" y2="257.5" stroke="#222" stroke-width="1.2" />
<line x1="427.90000000000003" y1="291.25" x2="436.3" y2="291.25" stroke="#222" stroke-width="1.2" />
<line x1="454.0" y1="237.5" x2="454.0" y2="266" stroke="#222" stroke-width="1.1" />
<line x1="449.8" y1="237.5" x2="458.2" y2="237.5" stroke="#222" stroke-width="1.2" />
<line x1="449.8" y1="266" x2="458.2" y2="266" stroke="#222" stroke-width="1.2" />
<circle cx="333.1" cy="307.3" r="2.5" fill="#dea33a" stroke="#1a1a1a" stroke-width="0.9"/>
<circle cx="330.3" cy="315.5" r="2.5" fill="#3c2a58" stroke="#1a1a1a" stroke-width="0.9"/>
<circle cx="334.8" cy="319.2" r="2.5" fill="#c0186a" stroke="#1a1a1a" stroke-width="0.9"/>
<circle cx="325.9" cy="322.6" r="2.5" fill="#e6c840" stroke="#1a1a1a" stroke-width="0.9"/>
<circle cx="340.2" cy="321.6" r="2.5" fill="#96b9de" stroke="#1a1a1a" stroke-width="0.9"/>
<circle cx="330.7" cy="325" r="2.5" fill="#3c6cae" stroke="#1a1a1a" stroke-width="0.9"/>
<circle cx="335.1" cy="324.7" r="2.5" fill="#78a85a" stroke="#1a1a1a" stroke-width="0.9"/>
<circle cx="355.2" cy="230" r="2.5" fill="#363d6c" stroke="#1a1a1a" stroke-width="0.9"/>
<circle cx="355.2" cy="235.8" r="2.5" fill="#78a85a" stroke="#1a1a1a" stroke-width="0.9"/>
<circle cx="350.3" cy="255.2" r="2.5" fill="#cfae3c" stroke="#1a1a1a" stroke-width="0.9"/>
<circle cx="355.2" cy="257.2" r="2.5" fill="#96b9de" stroke="#1a1a1a" stroke-width="0.9"/>
<circle cx="360.3" cy="255.2" r="2.5" fill="#3c2a58" stroke="#1a1a1a" stroke-width="0.9"/>
<circle cx="353" cy="281" r="2.5" fill="#c0186a" stroke="#1a1a1a" stroke-width="0.9"/>
<circle cx="358.1" cy="279.5" r="2.5" fill="#e6c840" stroke="#1a1a1a" stroke-width="0.9"/>
<circle cx="377.9" cy="228.5" r="2.5" fill="#363d6c" stroke="#1a1a1a" stroke-width="0.9"/>
<circle cx="381" cy="234.4" r="2.5" fill="#78a85a" stroke="#1a1a1a" stroke-width="0.9"/>
<circle cx="374.7" cy="239.2" r="2.5" fill="#dea33a" stroke="#1a1a1a" stroke-width="0.9"/>
<circle cx="374.7" cy="248.3" r="2.5" fill="#3c2a58" stroke="#1a1a1a" stroke-width="0.9"/>
<circle cx="380.7" cy="250" r="2.5" fill="#e6c840" stroke="#1a1a1a" stroke-width="0.9"/>
<circle cx="381" cy="261.6" r="2.5" fill="#96b9de" stroke="#1a1a1a" stroke-width="0.9"/>
<circle cx="374.7" cy="266.2" r="2.5" fill="#c0186a" stroke="#1a1a1a" stroke-width="0.9"/>
<circle cx="409.4" cy="310.1" r="2.5" fill="#dea33a" stroke="#1a1a1a" stroke-width="0.9"/>
<circle cx="406.2" cy="311.9" r="2.5" fill="#96b9de" stroke="#1a1a1a" stroke-width="0.9"/>
<circle cx="411.1" cy="316.6" r="2.5" fill="#c0186a" stroke="#1a1a1a" stroke-width="0.9"/>
<circle cx="402.3" cy="319.2" r="2.5" fill="#3c2a58" stroke="#1a1a1a" stroke-width="0.9"/>
<circle cx="416.3" cy="318.4" r="2.5" fill="#363d6c" stroke="#1a1a1a" stroke-width="0.9"/>
<circle cx="406.8" cy="322.2" r="2.5" fill="#78a85a" stroke="#1a1a1a" stroke-width="0.9"/>
<circle cx="411.6" cy="322.2" r="2.5" fill="#e6c840" stroke="#1a1a1a" stroke-width="0.9"/>
<circle cx="432" cy="249.25" r="2.5" fill="#363d6c" stroke="#1a1a1a" stroke-width="0.9"/>
<circle cx="432" cy="254.5" r="2.5" fill="#78a85a" stroke="#1a1a1a" stroke-width="0.9"/>
<circle cx="432" cy="264.5" r="2.5" fill="#3c2a58" stroke="#1a1a1a" stroke-width="0.9"/>
<circle cx="427" cy="285.5" r="2.5" fill="#dea33a" stroke="#1a1a1a" stroke-width="0.9"/>
<circle cx="432" cy="285.5" r="2.5" fill="#c0186a" stroke="#1a1a1a" stroke-width="0.9"/>
<circle cx="436.75" cy="281.75" r="2.5" fill="#e6c840" stroke="#1a1a1a" stroke-width="0.9"/>
<circle cx="432" cy="298.75" r="2.5" fill="#96b9de" stroke="#1a1a1a" stroke-width="0.9"/>
<circle cx="454.25" cy="233" r="2.5" fill="#363d6c" stroke="#1a1a1a" stroke-width="0.9"/>
<circle cx="448.25" cy="241.25" r="2.5" fill="#78a85a" stroke="#1a1a1a" stroke-width="0.9"/>
<circle cx="454.25" cy="244.5" r="2.5" fill="#e6c840" stroke="#1a1a1a" stroke-width="0.9"/>
<circle cx="460.5" cy="242.5" r="2.5" fill="#dea33a" stroke="#1a1a1a" stroke-width="0.9"/>
<circle cx="451.25" cy="263" r="2.5" fill="#c0186a" stroke="#1a1a1a" stroke-width="0.9"/>
<circle cx="457.5" cy="264.5" r="2.5" fill="#3c2a58" stroke="#1a1a1a" stroke-width="0.9"/>
<circle cx="454.25" cy="272.5" r="2.5" fill="#96b9de" stroke="#1a1a1a" stroke-width="0.9"/>
<path d="M332.5,216.5 L332.5,213.7 L378,213.7 L378,216.5" fill="none" stroke="#222" stroke-width="1.2"/>
<circle cx="350.75" cy="210.3" r="1.15" fill="#222"/>
<circle cx="353.85" cy="210.3" r="1.15" fill="#222"/>
<circle cx="356.95" cy="210.3" r="1.15" fill="#222"/>
<circle cx="360.05" cy="210.3" r="1.15" fill="#222"/>
<path d="M332.5,224.2 L332.5,221.6 L355.5,221.6 L355.5,224.2" fill="none" stroke="#222" stroke-width="1.2"/>
<circle cx="341.30" cy="218.2" r="1.15" fill="#222"/>
<circle cx="344.40" cy="218.2" r="1.15" fill="#222"/>
<circle cx="347.50" cy="218.2" r="1.15" fill="#222"/>
<path d="M407.5,215.85 L407.5,213.25 L453.25,213.25 L453.25,215.85" fill="none" stroke="#222" stroke-width="1.2"/>
<circle cx="427.40" cy="209.3" r="1.15" fill="#222"/>
<circle cx="430.50" cy="209.3" r="1.15" fill="#222"/>
<circle cx="433.60" cy="209.3" r="1.15" fill="#222"/>
<path d="M407.5,222.6 L407.5,220 L431.25,220 L431.25,222.6" fill="none" stroke="#222" stroke-width="1.2"/>
<circle cx="417.95" cy="216.0" r="1.15" fill="#222"/>
<circle cx="421.05" cy="216.0" r="1.15" fill="#222"/>
<path d="M431.25,229.25 L431.25,226.25 L453.25,226.25 L453.25,229.25" fill="none" stroke="#222" stroke-width="1.2"/>
<circle cx="442.00" cy="222.4" r="1.15" fill="#222"/>
<text transform="translate(334.3,338.4) rotate(-45)" x="0" y="0" font-size="8.8" fill="#2a2a2a" stroke="#2a2a2a" stroke-width="0.3" text-anchor="end" textLength="22" lengthAdjust="spacingAndGlyphs">No Ab</text>
<text transform="translate(410.8,338.4) rotate(-45)" x="0" y="0" font-size="8.8" fill="#2a2a2a" stroke="#2a2a2a" stroke-width="0.3" text-anchor="end" textLength="22" lengthAdjust="spacingAndGlyphs">No Ab</text>
<text transform="translate(356.7,338.4) rotate(-45)" x="0" y="0" font-size="8.8" fill="#2a2a2a" stroke="#2a2a2a" stroke-width="0.3" text-anchor="end" textLength="38.5" lengthAdjust="spacingAndGlyphs">CD19/CD3</text>
<text transform="translate(433.2,338.4) rotate(-45)" x="0" y="0" font-size="8.8" fill="#2a2a2a" stroke="#2a2a2a" stroke-width="0.3" text-anchor="end" textLength="38.5" lengthAdjust="spacingAndGlyphs">CD19/CD3</text>
<text transform="translate(379.09999999999997,338.4) rotate(-45)" x="0" y="0" font-size="8.8" fill="#2a2a2a" stroke="#2a2a2a" stroke-width="0.3" text-anchor="end" textLength="13" lengthAdjust="spacingAndGlyphs">Blin</text>
<text transform="translate(455.2,338.4) rotate(-45)" x="0" y="0" font-size="8.8" fill="#2a2a2a" stroke="#2a2a2a" stroke-width="0.3" text-anchor="end" textLength="13" lengthAdjust="spacingAndGlyphs">Blin</text>
<line x1="317" y1="366.7" x2="383.9" y2="366.7" stroke="#222" stroke-width="1.3" />
<line x1="401" y1="366.7" x2="466.2" y2="366.7" stroke="#222" stroke-width="1.3" />
<text x="351" y="377.6" font-size="8.5" fill="#2a2a2a" stroke="#2a2a2a" stroke-width="0.3" text-anchor="middle" textLength="16.5" lengthAdjust="spacingAndGlyphs">CD8</text>
<text x="433.5" y="377.6" font-size="8.5" fill="#2a2a2a" stroke="#2a2a2a" stroke-width="0.3" text-anchor="middle" textLength="16.5" lengthAdjust="spacingAndGlyphs">CD4</text>
<text x="275.4" y="404.3" font-size="10.8" fill="#111" font-weight="bold" stroke="#111" stroke-width="0.45" textLength="5.4" lengthAdjust="spacingAndGlyphs">F</text>
<line x1="315.1" y1="422.6" x2="315.1" y2="531.4" stroke="#222" stroke-width="1.5" />
<line x1="312.5" y1="425.49999999999994" x2="315.1" y2="425.49999999999994" stroke="#222" stroke-width="1.1" />
<text x="309.5" y="428.8999999999999" font-size="8.6" fill="#2a2a2a" stroke="#2a2a2a" stroke-width="0.3" text-anchor="end" textLength="13.4" lengthAdjust="spacingAndGlyphs">100</text>
<line x1="312.5" y1="446.55999999999995" x2="315.1" y2="446.55999999999995" stroke="#222" stroke-width="1.1" />
<text x="309.5" y="449.9599999999999" font-size="8.6" fill="#2a2a2a" stroke="#2a2a2a" stroke-width="0.3" text-anchor="end" textLength="9.0" lengthAdjust="spacingAndGlyphs">80</text>
<line x1="312.5" y1="467.61999999999995" x2="315.1" y2="467.61999999999995" stroke="#222" stroke-width="1.1" />
<text x="309.5" y="471.0199999999999" font-size="8.6" fill="#2a2a2a" stroke="#2a2a2a" stroke-width="0.3" text-anchor="end" textLength="9.0" lengthAdjust="spacingAndGlyphs">60</text>
<line x1="312.5" y1="488.67999999999995" x2="315.1" y2="488.67999999999995" stroke="#222" stroke-width="1.1" />
<text x="309.5" y="492.0799999999999" font-size="8.6" fill="#2a2a2a" stroke="#2a2a2a" stroke-width="0.3" text-anchor="end" textLength="9.0" lengthAdjust="spacingAndGlyphs">40</text>
<line x1="312.5" y1="509.73999999999995" x2="315.1" y2="509.73999999999995" stroke="#222" stroke-width="1.1" />
<text x="309.5" y="513.14" font-size="8.6" fill="#2a2a2a" stroke="#2a2a2a" stroke-width="0.3" text-anchor="end" textLength="9.0" lengthAdjust="spacingAndGlyphs">20</text>
<line x1="312.5" y1="530.8" x2="315.1" y2="530.8" stroke="#222" stroke-width="1.1" />
<text x="309.5" y="534.1999999999999" font-size="8.6" fill="#2a2a2a" stroke="#2a2a2a" stroke-width="0.3" text-anchor="end" textLength="4.5" lengthAdjust="spacingAndGlyphs">0</text>
<text transform="translate(290.8,476.6) rotate(-90)" x="0" y="0" font-size="8.6" fill="#2a2a2a" stroke="#2a2a2a" stroke-width="0.3" text-anchor="middle" textLength="53.3" lengthAdjust="spacingAndGlyphs">% Grnz B+ cells</text>
<path d="M325,530.8 L325,458 L341.5,458 L341.5,530.8" fill="#fff" stroke="#222" stroke-width="1.3"/>
<path d="M347.5,530.8 L347.5,426.25 L363.75,426.25 L363.75,530.8" fill="#fff" stroke="#222" stroke-width="1.3"/>
<path d="M369.5,530.8 L369.5,426.25 L386.3,426.25 L386.3,530.8" fill="#fff" stroke="#222" stroke-width="1.3"/>
<path d="M401,530.8 L401,526 L418,526 L418,530.8" fill="#fff" stroke="#222" stroke-width="1.3"/>
<path d="M423.5,530.8 L423.5,438.4 L440.3,438.4 L440.3,530.8" fill="#fff" stroke="#222" stroke-width="1.3"/>
<path d="M445.8,530.8 L445.8,433.8 L462.5,433.8 L462.5,530.8" fill="#fff" stroke="#222" stroke-width="1.3"/>
<line x1="314.4" y1="530.8" x2="473.3" y2="530.8" stroke="#222" stroke-width="1.3" />
<line x1="333" y1="530.8" x2="333" y2="533.4" stroke="#222" stroke-width="1.1" />
<line x1="355.5" y1="530.8" x2="355.5" y2="533.4" stroke="#222" stroke-width="1.1" />
<line x1="377.5" y1="530.8" x2="377.5" y2="533.4" stroke="#222" stroke-width="1.1" />
<line x1="409.2" y1="530.8" x2="409.2" y2="533.4" stroke="#222" stroke-width="1.1" />
<line x1="431.5" y1="530.8" x2="431.5" y2="533.4" stroke="#222" stroke-width="1.1" />
<line x1="454" y1="530.8" x2="454" y2="533.4" stroke="#222" stroke-width="1.1" />
<line x1="333.2" y1="447" x2="333.2" y2="465" stroke="#222" stroke-width="1.1" />
<line x1="330.0" y1="447" x2="336.4" y2="447" stroke="#222" stroke-width="1.2" />
<line x1="330.0" y1="465" x2="336.4" y2="465" stroke="#222" stroke-width="1.2" />
<line x1="409.5" y1="521.2" x2="409.5" y2="521.2" stroke="#222" stroke-width="1.1" />
<line x1="406.1" y1="521.2" x2="412.9" y2="521.2" stroke="#222" stroke-width="1.2" />
<line x1="406.1" y1="521.2" x2="412.9" y2="521.2" stroke="#222" stroke-width="1.2" />
<line x1="431.8" y1="432" x2="431.8" y2="466.2" stroke="#222" stroke-width="1.1" />
<line x1="428.1" y1="432" x2="435.5" y2="432" stroke="#222" stroke-width="1.2" />
<line x1="428.1" y1="466.2" x2="435.5" y2="466.2" stroke="#222" stroke-width="1.2" />
<line x1="454.2" y1="430" x2="454.2" y2="467.9" stroke="#222" stroke-width="1.1" />
<line x1="450.0" y1="430" x2="458.4" y2="430" stroke="#222" stroke-width="1.2" />
<line x1="450.0" y1="467.9" x2="458.4" y2="467.9" stroke="#222" stroke-width="1.2" />
<circle cx="333" cy="436.25" r="2.5" fill="#c0186a" stroke="#1a1a1a" stroke-width="0.9"/>
<circle cx="333" cy="442" r="2.5" fill="#3c2a58" stroke="#1a1a1a" stroke-width="0.9"/>
<circle cx="330.5" cy="448.75" r="2.5" fill="#dea33a" stroke="#1a1a1a" stroke-width="0.9"/>
<circle cx="335.5" cy="449.25" r="2.5" fill="#78a85a" stroke="#1a1a1a" stroke-width="0.9"/>
<circle cx="326.25" cy="456.25" r="2.5" fill="#e6c840" stroke="#1a1a1a" stroke-width="0.9"/>
<circle cx="335" cy="457.5" r="2.5" fill="#96b9de" stroke="#1a1a1a" stroke-width="0.9"/>
<circle cx="340" cy="455.75" r="2.5" fill="#363d6c" stroke="#1a1a1a" stroke-width="0.9"/>
<circle cx="332" cy="460.5" r="2.5" fill="#3c2a58" stroke="#1a1a1a" stroke-width="0.9"/>
<circle cx="333" cy="480.5" r="2.5" fill="#e6c840" stroke="#1a1a1a" stroke-width="0.9"/>
<circle cx="333" cy="486.25" r="2.5" fill="#7e1a3c" stroke="#1a1a1a" stroke-width="0.9"/>
<circle cx="350.5" cy="426" r="2.5" fill="#363d6c" stroke="#1a1a1a" stroke-width="0.9"/>
<circle cx="354" cy="426" r="2.5" fill="#3c2a58" stroke="#1a1a1a" stroke-width="0.9"/>
<circle cx="357.2" cy="426" r="2.5" fill="#3c6cae" stroke="#1a1a1a" stroke-width="0.9"/>
<circle cx="354.5" cy="428.5" r="2.5" fill="#7e1a3c" stroke="#1a1a1a" stroke-width="0.9"/>
<circle cx="360.5" cy="426" r="2.5" fill="#dea33a" stroke="#1a1a1a" stroke-width="0.9"/>
<circle cx="363" cy="426" r="2.5" fill="#96b9de" stroke="#1a1a1a" stroke-width="0.9"/>
<circle cx="371" cy="426" r="2.5" fill="#363d6c" stroke="#1a1a1a" stroke-width="0.9"/>
<circle cx="373.5" cy="426" r="2.5" fill="#3c6cae" stroke="#1a1a1a" stroke-width="0.9"/>
<circle cx="378.5" cy="424.5" r="2.5" fill="#c0186a" stroke="#1a1a1a" stroke-width="0.9"/>
<circle cx="383.5" cy="426" r="2.5" fill="#dea33a" stroke="#1a1a1a" stroke-width="0.9"/>
<circle cx="386" cy="426" r="2.5" fill="#96b9de" stroke="#1a1a1a" stroke-width="0.9"/>
<circle cx="378" cy="430.5" r="2.5" fill="#7e1a3c" stroke="#1a1a1a" stroke-width="0.9"/>
<circle cx="381.5" cy="433" r="2.5" fill="#e6c840" stroke="#1a1a1a" stroke-width="0.9"/>
<circle cx="375.7" cy="435.5" r="2.5" fill="#78a85a" stroke="#1a1a1a" stroke-width="0.9"/>
<circle cx="412.3" cy="512.7" r="2.5" fill="#c0186a" stroke="#1a1a1a" stroke-width="0.9"/>
<circle cx="406.9" cy="515.6" r="2.5" fill="#78a85a" stroke="#1a1a1a" stroke-width="0.9"/>
<circle cx="409.2" cy="523.7" r="2.5" fill="#dea33a" stroke="#1a1a1a" stroke-width="0.9"/>
<circle cx="402.7" cy="525.6" r="2.5" fill="#3c6cae" stroke="#1a1a1a" stroke-width="0.9"/>
<circle cx="416.5" cy="526.2" r="2.5" fill="#363d6c" stroke="#1a1a1a" stroke-width="0.9"/>
<circle cx="406.9" cy="529.4" r="2.5" fill="#7e1a3c" stroke="#1a1a1a" stroke-width="0.9"/>
<circle cx="410.4" cy="529.4" r="2.5" fill="#7e1a3c" stroke="#1a1a1a" stroke-width="0.9"/>
<circle cx="432.3" cy="425.3" r="2.5" fill="#c0186a" stroke="#1a1a1a" stroke-width="0.9"/>
<circle cx="427.5" cy="428.2" r="2.5" fill="#363d6c" stroke="#1a1a1a" stroke-width="0.9"/>
<circle cx="432.7" cy="431.6" r="2.5" fill="#dea33a" stroke="#1a1a1a" stroke-width="0.9"/>
<circle cx="437.4" cy="431.2" r="2.5" fill="#dea33a" stroke="#1a1a1a" stroke-width="0.9"/>
<circle cx="430.1" cy="435.8" r="2.5" fill="#7e1a3c" stroke="#1a1a1a" stroke-width="0.9"/>
<circle cx="434.4" cy="439.2" r="2.5" fill="#96b9de" stroke="#1a1a1a" stroke-width="0.9"/>
<circle cx="434.7" cy="459.4" r="2.5" fill="#78a85a" stroke="#1a1a1a" stroke-width="0.9"/>
<circle cx="430.1" cy="464" r="2.5" fill="#3c2a58" stroke="#1a1a1a" stroke-width="0.9"/>
<circle cx="432.3" cy="473.7" r="2.5" fill="#e6c840" stroke="#1a1a1a" stroke-width="0.9"/>
<circle cx="432.3" cy="479.9" r="2.5" fill="#7e1a3c" stroke="#1a1a1a" stroke-width="0.9"/>
<circle cx="447.7" cy="425.9" r="2.5" fill="#c0186a" stroke="#1a1a1a" stroke-width="0.9"/>
<circle cx="451.8" cy="427.6" r="2.5" fill="#363d6c" stroke="#1a1a1a" stroke-width="0.9"/>
<circle cx="454.5" cy="429" r="2.5" fill="#7e1a3c" stroke="#1a1a1a" stroke-width="0.9"/>
<circle cx="457.9" cy="427.3" r="2.5" fill="#dea33a" stroke="#1a1a1a" stroke-width="0.9"/>
<circle cx="461.3" cy="427" r="2.5" fill="#96b9de" stroke="#1a1a1a" stroke-width="0.9"/>
<circle cx="454" cy="437.2" r="2.5" fill="#e6c840" stroke="#1a1a1a" stroke-width="0.9"/>
<circle cx="454" cy="451.5" r="2.5" fill="#78a85a" stroke="#1a1a1a" stroke-width="0.9"/>
<circle cx="454" cy="460.6" r="2.5" fill="#e6c840" stroke="#1a1a1a" stroke-width="0.9"/>
<circle cx="456.9" cy="489.1" r="2.5" fill="#7e1a3c" stroke="#1a1a1a" stroke-width="0.9"/>
<circle cx="451.8" cy="493.9" r="2.5" fill="#3c2a58" stroke="#1a1a1a" stroke-width="0.9"/>
<path d="M332.5,411.55 L332.5,408.75 L378,408.75 L378,411.55" fill="none" stroke="#222" stroke-width="1.2"/>
<circle cx="353.95" cy="405.0" r="1.15" fill="#222"/>
<circle cx="357.05" cy="405.0" r="1.15" fill="#222"/>
<path d="M332.5,419.55 L332.5,416.75 L355.5,416.75 L355.5,419.55" fill="none" stroke="#222" stroke-width="1.2"/>
<circle cx="341.90" cy="413.0" r="1.15" fill="#222"/>
<circle cx="345.00" cy="413.0" r="1.15" fill="#222"/>
<circle cx="348.10" cy="413.0" r="1.15" fill="#222"/>
<path d="M409.1,412.9 L409.1,409.9 L455.7,409.9 L455.7,412.9" fill="none" stroke="#222" stroke-width="1.2"/>
<circle cx="429.60" cy="406.3" r="1.15" fill="#222"/>
<circle cx="432.70" cy="406.3" r="1.15" fill="#222"/>
<circle cx="435.80" cy="406.3" r="1.15" fill="#222"/>
<path d="M409.1,420.9 L409.1,417.9 L432.3,417.9 L432.3,420.9" fill="none" stroke="#222" stroke-width="1.2"/>
<circle cx="419.15" cy="414.3" r="1.15" fill="#222"/>
<circle cx="422.25" cy="414.3" r="1.15" fill="#222"/>
<text transform="translate(334.2,540.7) rotate(-45)" x="0" y="0" font-size="8.8" fill="#2a2a2a" stroke="#2a2a2a" stroke-width="0.3" text-anchor="end" textLength="22" lengthAdjust="spacingAndGlyphs">No Ab</text>
<text transform="translate(410.4,540.7) rotate(-45)" x="0" y="0" font-size="8.8" fill="#2a2a2a" stroke="#2a2a2a" stroke-width="0.3" text-anchor="end" textLength="22" lengthAdjust="spacingAndGlyphs">No Ab</text>
<text transform="translate(356.7,540.7) rotate(-45)" x="0" y="0" font-size="8.8" fill="#2a2a2a" stroke="#2a2a2a" stroke-width="0.3" text-anchor="end" textLength="38.5" lengthAdjust="spacingAndGlyphs">CD19/CD3</text>
<text transform="translate(432.7,540.7) rotate(-45)" x="0" y="0" font-size="8.8" fill="#2a2a2a" stroke="#2a2a2a" stroke-width="0.3" text-anchor="end" textLength="38.5" lengthAdjust="spacingAndGlyphs">CD19/CD3</text>
<text transform="translate(378.7,540.7) rotate(-45)" x="0" y="0" font-size="8.8" fill="#2a2a2a" stroke="#2a2a2a" stroke-width="0.3" text-anchor="end" textLength="13" lengthAdjust="spacingAndGlyphs">Blin</text>
<text transform="translate(455.2,540.7) rotate(-45)" x="0" y="0" font-size="8.8" fill="#2a2a2a" stroke="#2a2a2a" stroke-width="0.3" text-anchor="end" textLength="13" lengthAdjust="spacingAndGlyphs">Blin</text>
<line x1="317.5" y1="568.8" x2="383.8" y2="568.8" stroke="#222" stroke-width="1.3" />
<line x1="400.8" y1="568.8" x2="466.5" y2="568.8" stroke="#222" stroke-width="1.3" />
<text x="350.5" y="579.6" font-size="8.5" fill="#2a2a2a" stroke="#2a2a2a" stroke-width="0.3" text-anchor="middle" textLength="16.5" lengthAdjust="spacingAndGlyphs">CD8</text>
<text x="433.8" y="579.6" font-size="8.5" fill="#2a2a2a" stroke="#2a2a2a" stroke-width="0.3" text-anchor="middle" textLength="16.5" lengthAdjust="spacingAndGlyphs">CD4</text>
</svg>
</body></html>
